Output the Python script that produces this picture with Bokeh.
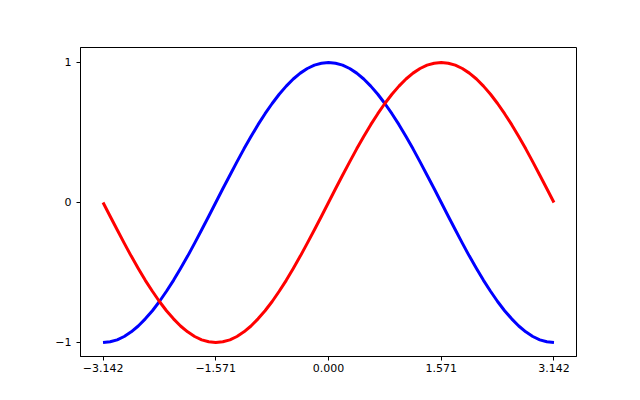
from bokeh.plotting import figure
from bokeh.models import FixedTicker, Range1d
from bokeh.embed import file_html
from bokeh.resources import INLINE

x_vals = [-3.142, -3.043, -2.945, -2.847, -2.749, -2.651, -2.553, -2.454,
          -2.356, -2.258, -2.160, -2.062, -1.963, -1.865, -1.767, -1.669,
          -1.571, -1.473, -1.374, -1.276, -1.178, -1.080, -0.982, -0.884,
          -0.785, -0.687, -0.589, -0.491, -0.393, -0.295, -0.196, -0.098,
          0.000,
          0.098, 0.196, 0.295, 0.393, 0.491, 0.589, 0.687, 0.785,
          0.884, 0.982, 1.080, 1.178, 1.276, 1.374, 1.473, 1.571,
          1.669, 1.767, 1.865, 1.963, 2.062, 2.160, 2.258, 2.356,
          2.454, 2.553, 2.651, 2.749, 2.847, 2.945, 3.043, 3.142]
cos_vals = [-1.000, -0.995, -0.981, -0.957, -0.924, -0.882, -0.831, -0.773,
            -0.707, -0.634, -0.556, -0.471, -0.383, -0.290, -0.195, -0.098,
            0.000, 0.098, 0.195, 0.290, 0.383, 0.471, 0.556, 0.634,
            0.707, 0.773, 0.831, 0.882, 0.924, 0.957, 0.981, 0.995,
            1.000,
            0.995, 0.981, 0.957, 0.924, 0.882, 0.831, 0.773, 0.707,
            0.634, 0.556, 0.471, 0.383, 0.290, 0.195, 0.098, 0.000,
            -0.098, -0.195, -0.290, -0.383, -0.471, -0.556, -0.634, -0.707,
            -0.773, -0.831, -0.882, -0.924, -0.957, -0.981, -0.995, -1.000]
sin_vals = [0.000, -0.098, -0.195, -0.290, -0.383, -0.471, -0.556, -0.634,
            -0.707, -0.773, -0.831, -0.882, -0.924, -0.957, -0.981, -0.995,
            -1.000, -0.995, -0.981, -0.957, -0.924, -0.882, -0.831, -0.773,
            -0.707, -0.634, -0.556, -0.471, -0.383, -0.290, -0.195, -0.098,
            0.000,
            0.098, 0.195, 0.290, 0.383, 0.471, 0.556, 0.634, 0.707,
            0.773, 0.831, 0.882, 0.924, 0.957, 0.981, 0.995, 1.000,
            0.995, 0.981, 0.957, 0.924, 0.882, 0.831, 0.773, 0.707,
            0.634, 0.556, 0.471, 0.383, 0.290, 0.195, 0.098, 0.000]

x_ticks = [-3.142, -1.571, 0.0, 1.571, 3.142]
x_tick_labels = ["\u22123.142", "\u22121.571", "0.000", "1.571", "3.142"]
y_ticks = [-1, 0, 1]
y_tick_labels = ["\u22121", "0", "1"]

p = figure(width=624, height=384, output_backend="svg", toolbar_location=None,
           x_range=Range1d(-3.456, 3.456), y_range=Range1d(-1.1, 1.107))
p.min_border_left = 80
p.min_border_right = 48
p.min_border_top = 47
p.min_border_bottom = 28

p.line(x_vals, cos_vals, line_color="blue", line_width=3, line_join="round")
p.line(x_vals, sin_vals, line_color="red", line_width=3, line_join="round")

p.grid.visible = False
p.outline_line_color = "black"
p.outline_line_width = 1
p.background_fill_color = "white"
p.border_fill_color = "white"

p.xaxis.ticker = FixedTicker(ticks=x_ticks)
p.xaxis.major_label_overrides = {t: l for t, l in zip(x_ticks, x_tick_labels)}
p.yaxis.ticker = FixedTicker(ticks=y_ticks)
p.yaxis.major_label_overrides = {t: l for t, l in zip(y_ticks, y_tick_labels)}

for ax in (p.xaxis, p.yaxis):
    ax.major_tick_out = 4
    ax.major_tick_in = 0
    ax.minor_tick_line_color = None
    ax.axis_line_color = "black"
    ax.major_tick_line_color = "black"
    ax.major_label_text_font = "DejaVu Sans"
    ax.major_label_text_font_size = "11px"
    ax.major_label_text_color = "black"
p.xaxis.major_label_standoff = 3
p.yaxis.major_label_standoff = 5

open("out.html", "w").write(file_html(p, INLINE))
